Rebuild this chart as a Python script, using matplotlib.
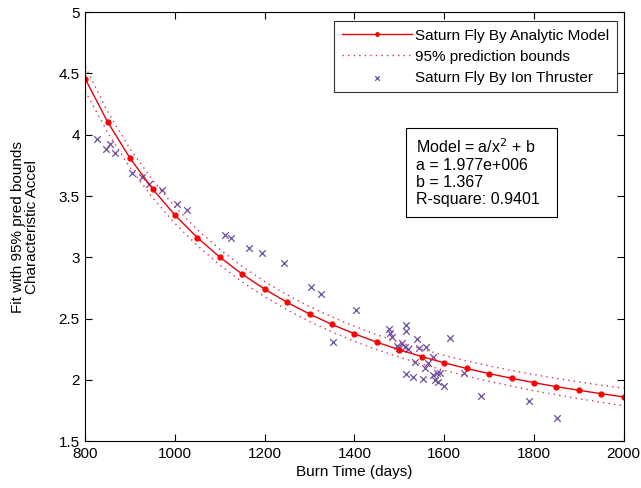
import matplotlib
matplotlib.use("Agg")
import matplotlib.pyplot as plt
from matplotlib.patches import Rectangle

plt.rcParams['font.family'] = ['Liberation Sans', 'DejaVu Sans']

# Model curve values (markers every 50 days)
model_x = [800, 850, 900, 950, 1000, 1050, 1100, 1150, 1200, 1250, 1300, 1350,
           1400, 1450, 1500, 1550, 1600, 1650, 1700, 1750, 1800, 1850, 1900, 1950, 2000]
model_y = [4.456, 4.103, 3.808, 3.558, 3.344, 3.160, 3.001, 2.862, 2.740, 2.632,
           2.537, 2.452, 2.376, 2.307, 2.246, 2.190, 2.139, 2.093, 2.051, 2.013,
           1.977, 1.945, 1.915, 1.887, 1.861]
upper_y = [4.556, 4.188, 3.885, 3.630, 3.412, 3.225, 3.065, 2.925, 2.802, 2.693,
           2.598, 2.513, 2.437, 2.368, 2.307, 2.251, 2.200, 2.155, 2.114, 2.077,
           2.043, 2.012, 1.983, 1.957, 1.933]
lower_y = [4.356, 4.018, 3.731, 3.486, 3.276, 3.095, 2.937, 2.799, 2.678, 2.571,
           2.476, 2.391, 2.315, 2.246, 2.185, 2.129, 2.078, 2.031, 1.988, 1.949,
           1.911, 1.878, 1.847, 1.817, 1.789]

# Ion thruster data points
ion_x = [827, 847, 856, 866, 904, 926, 943, 972, 1004, 1027, 1111, 1124, 1164, 1193,
         1242, 1303, 1326, 1352, 1404, 1478, 1480, 1484, 1494, 1500, 1506, 1512, 1514,
         1514, 1520, 1530, 1536, 1539, 1543, 1552, 1558, 1560, 1563, 1575, 1576, 1579,
         1583, 1586, 1590, 1599, 1613, 1644, 1683, 1789, 1852, 1515]
ion_y = [3.964, 3.880, 3.921, 3.852, 3.692, 3.657, 3.597, 3.548, 3.434, 3.385, 3.179,
         3.159, 3.078, 3.034, 2.955, 2.760, 2.697, 2.311, 2.569, 2.412, 2.379, 2.35,
         2.28, 2.26, 2.30, 2.27, 2.447, 2.40, 2.25, 2.02, 2.143, 2.330, 2.257, 2.004,
         2.10, 2.27, 2.14, 2.04, 2.183, 2.0, 2.06, 1.985, 2.06, 1.95, 2.338, 2.053,
         1.870, 1.830, 1.686, 2.045]

x_ticks = [800, 1000, 1200, 1400, 1600, 1800, 2000]
y_ticks = [1.5, 2, 2.5, 3, 3.5, 4, 4.5, 5]
y_tick_labels = ['1.5', '2', '2.5', '3', '3.5', '4', '4.5', '5']

fig = plt.figure(figsize=(6.41, 4.88), dpi=100)
ax = fig.add_axes([0.133, 0.096, 0.840, 0.879])

ax.plot(model_x, model_y, color='#e8000b', linewidth=1.0, marker='o',
        markersize=3.5, markerfacecolor='#ff0000', markeredgecolor='#ff0000',
        label='Saturn Fly By Analytic Model')
ax.plot(model_x, upper_y, color='#e0304a', linestyle=(0, (1, 3)), linewidth=1.0,
        label='95% prediction bounds')
ax.plot(model_x, lower_y, color='#e0304a', linestyle=(0, (1, 3)), linewidth=1.0)
ax.scatter(ion_x, ion_y, marker='x', s=22, color='#6a4c9c', linewidths=0.9,
           label='Saturn Fly By Ion Thruster')

ax.set_xlim(800, 2000)
ax.set_ylim(1.5, 5)
ax.set_xticks(x_ticks)
ax.set_yticks(y_ticks)
ax.set_yticklabels(y_tick_labels)
ax.tick_params(direction='in', top=True, right=True, length=5, labelsize=11, pad=4)
for s in ax.spines.values():
    s.set_linewidth(0.8)

ax.set_xlabel('Burn Time (days)', fontsize=11, labelpad=3)
ax.set_ylabel('Fit with 95% pred bounds\nCharacteristic Accel', fontsize=11,
              labelpad=14, linespacing=1.0)

leg = ax.legend(loc='upper right', bbox_to_anchor=(0.987, 0.979), fontsize=11,
                frameon=True, fancybox=False, edgecolor='black', handlelength=4.6,
                borderpad=0.5, labelspacing=0.45, handletextpad=0.2,
                borderaxespad=0, markerscale=0.7)
leg.get_frame().set_linewidth(0.8)

ax.add_patch(Rectangle((0.595, 0.522), 0.282, 0.208, transform=ax.transAxes,
                       facecolor='white', edgecolor='black', linewidth=0.8,
                       zorder=5))
ax.text(0.614, 0.708,
        'Model = a/x$^2$ + b\na = 1.977e+006\nb = 1.367\nR-square: 0.9401',
        transform=ax.transAxes, fontsize=11.5, va='top', ha='left',
        linespacing=1.17, zorder=6)

fig.savefig('out.png', dpi=100)
